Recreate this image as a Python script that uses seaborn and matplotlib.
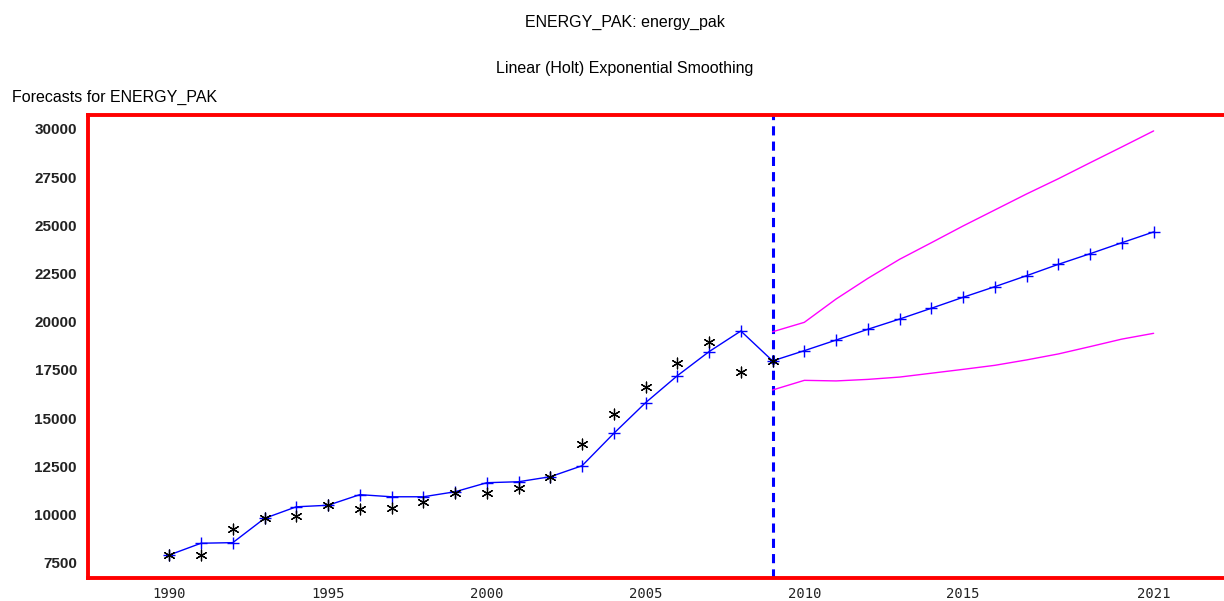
import matplotlib
matplotlib.use("Agg")
import matplotlib.pyplot as plt
import seaborn as sns
import numpy as np
import pandas as pd

# Observed annual energy series
obs_years = list(range(1990, 2010))
actual = [7900, 7920, 9230, 9800, 9920, 10480, 10300, 10340, 10650, 11130,
          11100, 11360, 11950, 13640, 15210, 16600, 17880, 18950, 17380, 17970]

# One-step-ahead fitted values (1990-2008) followed by forecasts (2009-2021)
pred_years = list(range(1990, 2022))
predicted = [7900, 8510, 8540, 9800, 10400, 10480, 11030, 10920, 10920, 11180,
             11650, 11700, 11960, 12530, 14210, 15800, 17200, 18450, 19520,
             17970, 18500, 19050, 19610, 20140, 20700, 21270, 21820, 22390,
             22980, 23530, 24100, 24660]

# 95% confidence limits for the forecast horizon
band_years = list(range(2009, 2022))
upper = [19480, 19970, 21180, 22250, 23240, 24100, 24970, 25800, 26630,
         27420, 28250, 29070, 29900]
lower = [16460, 16960, 16930, 17010, 17130, 17330, 17530, 17740, 18020,
         18330, 18710, 19100, 19400]

x_ticks = [1990, 1995, 2000, 2005, 2010, 2015, 2021]
y_ticks = [7500, 10000, 12500, 15000, 17500, 20000, 22500, 25000, 27500, 30000]
last_obs = 2009

sns.set_theme(style="white")
plt.rcParams["font.family"] = ["Liberation Sans", "DejaVu Sans"]

fig = plt.figure(figsize=(12.24, 6.01), dpi=100)
W, H = 1224, 601
left_px, right_px, top_px, bottom_px = 88, 1233, 115, 578
ax = fig.add_axes([left_px / W, 1 - bottom_px / H,
                   (right_px - left_px) / W, (bottom_px - top_px) / H])

pred_df = pd.DataFrame({"year": pred_years, "value": predicted})
obs_df = pd.DataFrame({"year": obs_years, "value": actual})
band_df = pd.DataFrame({"year": band_years, "upper": upper, "lower": lower})

sns.lineplot(data=band_df, x="year", y="upper", ax=ax, color="#FF00FF",
             lw=1.0, estimator=None)
sns.lineplot(data=band_df, x="year", y="lower", ax=ax, color="#FF00FF",
             lw=1.0, estimator=None)
sns.lineplot(data=pred_df, x="year", y="value", ax=ax, color="#0000FF",
             lw=1.0, marker="+", markersize=8.5, markeredgewidth=1.0,
             markeredgecolor="#0000FF", estimator=None)
sns.scatterplot(data=obs_df, x="year", y="value", ax=ax, marker=(6, 2, 0),
                s=60, color="black", linewidth=0.9, zorder=3)

ax.axvline(last_obs, color="#0000FF", lw=2.2, ls=(0, (3, 2)), zorder=1)

ax.set_xlim(1987.44, 2023.5)
ax.set_ylim(6706, 30726)
ax.set_xticks(x_ticks)
ax.set_xticklabels([str(t) for t in x_ticks])
ax.set_yticks(y_ticks)
ax.set_yticklabels([str(t) for t in y_ticks])
ax.set_xlabel("")
ax.set_ylabel("")

for sp in ax.spines.values():
    sp.set_color("#FF0000")
    sp.set_linewidth(2.8)
    sp.set_visible(True)

ax.tick_params(axis="both", which="major", direction="out", color="#FF0000",
               length=5, width=2)
ax.tick_params(axis="x", labelsize=10, pad=1.5)
ax.tick_params(axis="y", labelsize=11, pad=3)
for lab in ax.get_yticklabels():
    lab.set_fontweight("bold")
    lab.set_color("#222222")
for lab in ax.get_xticklabels():
    lab.set_family(["DejaVu Sans Mono", "DejaVu Sans"])
    lab.set_color("#222222")

fig.text(625 / W, 1 - 22 / H, "ENERGY_PAK: energy_pak", ha="center",
         va="center", fontsize=11.5, color="black")
fig.text(625 / W, 1 - 68 / H, "Linear (Holt) Exponential Smoothing",
         ha="center", va="center", fontsize=11.5, color="black")
fig.text(12 / W, 1 - 97 / H, "Forecasts for ENERGY_PAK", ha="left",
         va="center", fontsize=11.5, color="black")

fig.savefig("out.png", dpi=100, facecolor="white")
